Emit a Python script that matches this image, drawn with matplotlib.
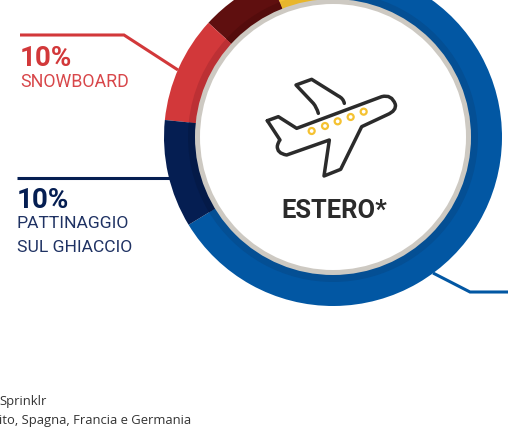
import matplotlib
matplotlib.use('Agg')
import matplotlib.pyplot as plt
from matplotlib.path import Path
from matplotlib.patches import Circle, PathPatch

# ring shares, counter-clockwise starting from the navy/blue boundary
shares = [65.8, 6.5, 7.2, 10.2, 10.3]
outer_colors = ['#0257A3', '#F5C232', '#5F0F0F', '#D2383A', '#051E52']
inner_colors = ['#044F94', '#E8B62C', '#540C0C', '#BC3034', '#041A48']
labels_pct = ['10%', '10%']
label_snow = 'SNOWBOARD'
label_skate = ['PATTINAGGIO', 'SUL GHIACCIO']
center_label = 'ESTERO*'
foot_lines = ['Sprinklr', 'ito, Spagna, Francia e Germania']

plt.rcParams['font.family'] = ['Roboto', 'DejaVu Sans']

W, H = 508, 430
fig = plt.figure(figsize=(W / 100, H / 100), dpi=100)
fig.patch.set_facecolor('white')
ax = fig.add_axes([0, 0, 1, 1])

CX, CY = 333, H - 137
START = 211.3

ax.pie(shares, colors=outer_colors, startangle=START, counterclock=True,
       radius=169, center=(CX, CY), wedgeprops={'linewidth': 0, 'zorder': 3})
ax.pie(shares, colors=inner_colors, startangle=START, counterclock=True,
       radius=145, center=(CX, CY), wedgeprops={'linewidth': 0, 'zorder': 4})
ax.add_patch(Circle((CX, CY), 138, fc='#CDC9C2', ec='none', zorder=5))
ax.add_patch(Circle((CX, CY), 133, fc='white', ec='none', zorder=6))

ax.set_xlim(0, W)
ax.set_ylim(0, H)
ax.set_aspect('equal')
ax.axis('off')


def py(y):
    return H - y


def leader(xs, ys, color):
    ax.plot(xs, [py(y) for y in ys], color=color, lw=2.2, zorder=2,
            solid_joinstyle='miter', solid_capstyle='butt')


def txt(x, y, s, fs, color, weight='normal', ha='left', family=None):
    ax.text(x, py(y), s, fontsize=fs, color=color, fontweight=weight, ha=ha,
            va='baseline', zorder=8, family=family or ['Roboto', 'DejaVu Sans'])


# leaders
leader([20, 124, 178], [35, 35, 70], '#D2383A')
leader([17, 172], [178, 178], '#051E52')
leader([433, 470, 508], [273, 292, 292], '#0257A3')

# labels
txt(20, 66, labels_pct[0], 20, '#D2383A', 'bold')
txt(20.5, 87, label_snow, 12.8, '#D8474A')
txt(17, 208, labels_pct[1], 20, '#051E52', 'bold')
txt(17, 228, label_skate[0], 12.6, '#1F3263')
txt(17, 252, label_skate[1], 12.6, '#1F3263')

txt(334.5, 218, center_label, 18.4, '#2B2B2B', 'bold', ha='center')

txt(-1, 405, foot_lines[0], 9.4, '#333333', family=['Open Sans', 'DejaVu Sans'])
txt(-1, 424, foot_lines[1], 9.4, '#333333', family=['Open Sans', 'DejaVu Sans'])


# plane icon, points taken in zoom crop pixels
def z(px, pyy):
    return (250 + px / 3, py(70 + pyy / 3))


M, L, C = Path.MOVETO, Path.LINETO, Path.CURVE3
body = [
    (z(52, 152), M), (z(85, 140), L), (z(140, 175), L), (z(395, 80), L),
    (z(425, 72), C), (z(436, 103), C), (z(440, 122), C), (z(412, 134), C),
    (z(335, 170), L), (z(272, 298), L), (z(222, 318), L), (z(238, 210), L),
    (z(110, 255), L), (z(80, 250), C), (z(82, 228), C), (z(85, 215), C),
    (z(90, 210), C), (z(52, 152), L),
]
wing = [
    (z(205, 130), M), (z(200, 112), C), (z(190, 100), C), (z(138, 45), L),
    (z(185, 28), L), (z(265, 78), L), (z(280, 85), C), (z(283, 100), C),
]
for pts in (body, wing):
    ax.add_patch(PathPatch(Path([p[0] for p in pts], [p[1] for p in pts]),
                           fc='none', ec='#2B2B2B', lw=2.5, zorder=7,
                           joinstyle='round', capstyle='round'))

for px, pyy in [(185, 183), (225, 168), (263, 154), (302, 141), (341, 125)]:
    ax.add_patch(Circle(z(px, pyy), 3, fc='white', ec='#F5C232', lw=1.6, zorder=8))

fig.savefig('out.png', dpi=100, facecolor='white')
